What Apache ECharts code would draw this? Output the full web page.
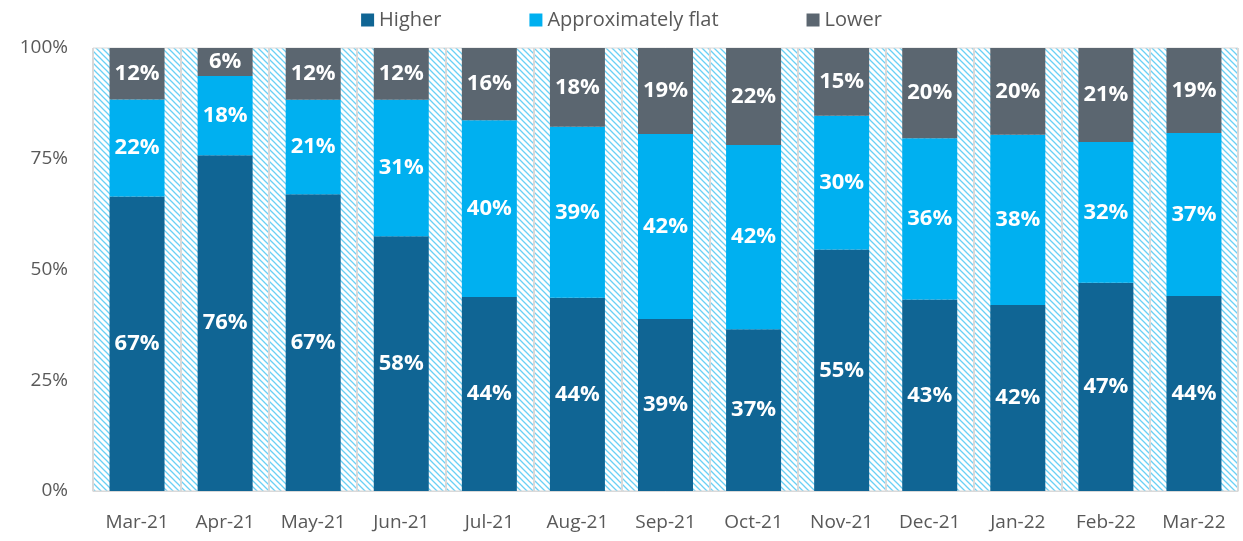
<!DOCTYPE html>
<html>
<head>
<meta charset="utf-8">
<script src="https://cdn.jsdelivr.net/npm/echarts@6/dist/echarts.min.js"></script>
<style>
  html, body { margin: 0; padding: 0; background: #fff; }
  #chartId { width: 1243px; height: 541px; }
</style>
</head>
<body>
<div id="chartId"></div>
<script>
var categories = ['Mar-21', 'Apr-21', 'May-21', 'Jun-21', 'Jul-21', 'Aug-21', 'Sep-21',
  'Oct-21', 'Nov-21', 'Dec-21', 'Jan-22', 'Feb-22', 'Mar-22'];
// shares (labels are rounded)
var higherData = [66.5, 75.8, 67.0, 57.5, 43.8, 43.6, 38.8, 36.5, 54.5, 43.2, 42.0, 47.0, 44.0];
var flatData = [21.9, 17.9, 21.3, 30.8, 39.9, 38.6, 41.8, 41.6, 30.2, 36.4, 38.4, 31.8, 36.8];
var lowerData = [11.6, 6.3, 11.7, 11.7, 16.3, 17.8, 19.4, 21.9, 15.3, 20.4, 19.6, 21.2, 19.2];
var yTicks = [0, 25, 50, 75, 100];

// hatched plot background
function makeHatch() {
  var c = document.createElement('canvas');
  c.width = 6; c.height = 6;
  var ctx = c.getContext('2d');
  ctx.fillStyle = '#ffffff';
  ctx.fillRect(0, 0, 6, 6);
  ctx.strokeStyle = '#6ad0f5';
  ctx.lineWidth = 1.3;
  ctx.beginPath();
  ctx.moveTo(0, 0); ctx.lineTo(6, 6);
  ctx.moveTo(-3, 3); ctx.lineTo(3, 9);
  ctx.moveTo(3, -3); ctx.lineTo(9, 3);
  ctx.stroke();
  return c;
}

var fontFam = '"Open Sans", sans-serif';
var labelStyle = {
  show: true,
  position: 'inside',
  color: '#ffffff',
  fontFamily: fontFam,
  fontWeight: 'bold',
  fontSize: 22,
  formatter: function (p) { return Math.round(p.value) + '%'; }
};

function barSeries(name, data, color) {
  return {
    name: name,
    type: 'bar',
    stack: 'total',
    barWidth: 55,
    data: data,
    itemStyle: { color: color },
    label: labelStyle,
    animation: false
  };
}

var myChart = echarts.init(document.getElementById('chartId'));
myChart.setOption({
  animation: false,
  legend: {
    top: 5,
    left: 'center',
    itemGap: 88,
    itemWidth: 13,
    itemHeight: 13,
    icon: 'rect',
    textStyle: { fontFamily: fontFam, fontSize: 20, color: '#595959' },
    data: ['Higher', 'Approximately flat', 'Lower']
  },
  grid: {
    left: 93,
    right: 5,
    top: 48,
    bottom: 50,
    show: true,
    borderColor: '#d9d9d9',
    borderWidth: 1,
    backgroundColor: { image: makeHatch(), repeat: 'repeat' }
  },
  xAxis: {
    type: 'category',
    data: categories,
    axisLine: { lineStyle: { color: '#d9d9d9' } },
    axisTick: { show: false },
    splitLine: { show: true, lineStyle: { color: '#d9d9d9', width: 2 } },
    axisLabel: { fontFamily: fontFam, fontSize: 19, color: '#595959', margin: 22 }
  },
  yAxis: {
    type: 'value',
    min: yTicks[0],
    max: yTicks[yTicks.length - 1],
    interval: 25,
    axisLine: { show: false },
    axisTick: { show: false },
    splitLine: { show: false },
    axisLabel: {
      fontFamily: fontFam, fontSize: 19, color: '#595959', margin: 25,
      formatter: '{value}%'
    }
  },
  series: [
    barSeries('Higher', higherData, '#106594'),
    barSeries('Approximately flat', flatData, '#00b0f0'),
    barSeries('Lower', lowerData, '#5b6670')
  ]
});
</script>
</body>
</html>
